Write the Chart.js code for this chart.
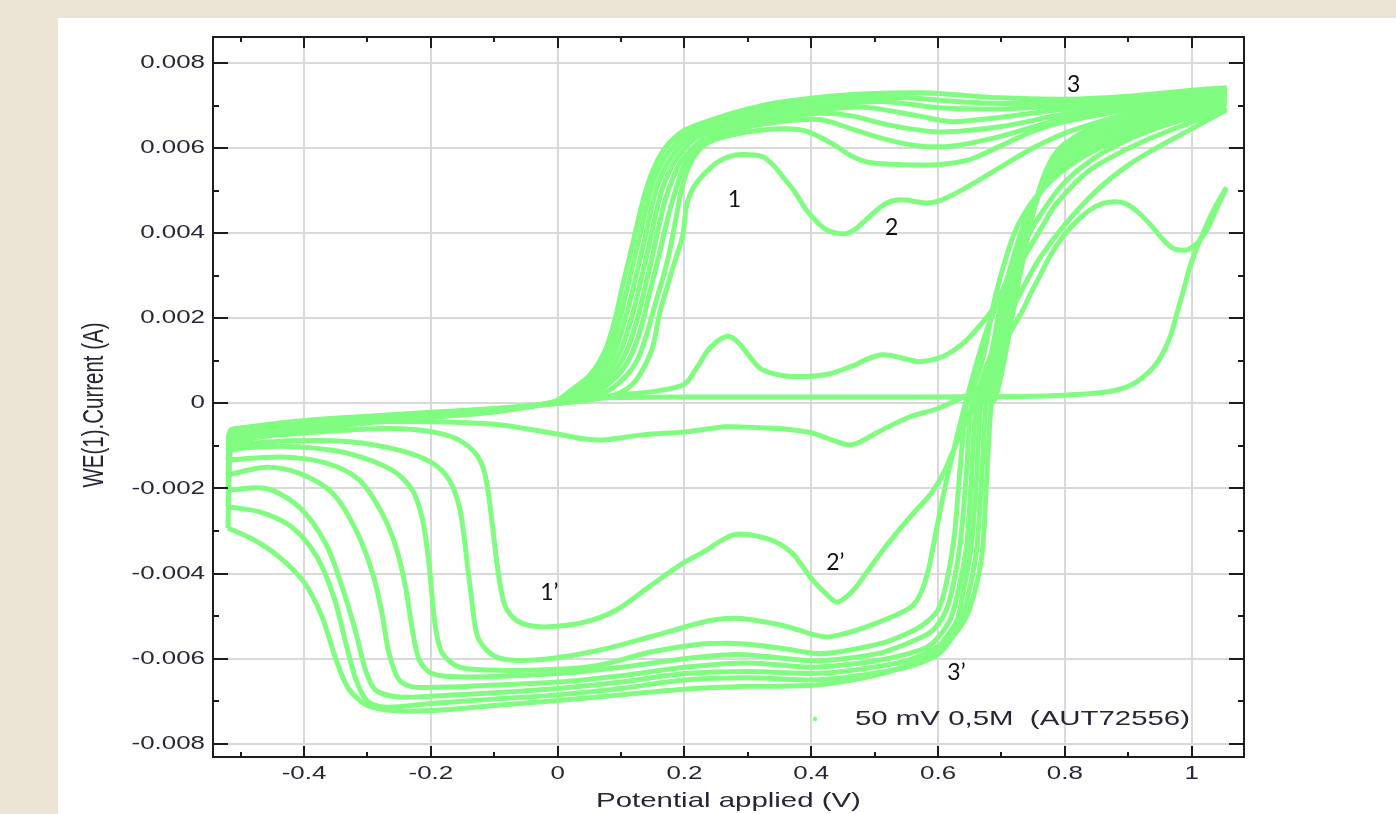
<!DOCTYPE html>
<html>
<head>
<meta charset="utf-8">
<script src="https://cdn.jsdelivr.net/npm/chart.js@4.4.1/dist/chart.umd.min.js"></script>
<style>
  html, body { margin: 0; padding: 0; background: #ece5d5; overflow: hidden; }
  #panel { position: absolute; left: 58px; top: 18px; right: 0; bottom: 0; background: #fff; }
  #wrap { position: absolute; left: 0; top: 0; width: 1396px; height: 814px; }
</style>
</head>
<body>
<div id="panel"></div>
<div id="wrap"><canvas id="cv"></canvas></div>
<script>
// axis ticks (potential in V, current in A)
const xTicks = [-0.4, -0.2, 0, 0.2, 0.4, 0.6, 0.8, 1];
const xTickLabels = ['-0.4', '-0.2', '0', '0.2', '0.4', '0.6', '0.8', '1'];
const xMinor = [-0.5, -0.3, -0.1, 0.1, 0.3, 0.5, 0.7, 0.9];
const yTicks = [0.008, 0.006, 0.004, 0.002, 0, -0.002, -0.004, -0.006, -0.008];
const yTickLabels = ['0.008', '0.006', '0.004', '0.002', '0', '-0.002', '-0.004', '-0.006', '-0.008'];
const yMinor = [0.007, 0.005, 0.003, 0.001, -0.001, -0.003, -0.005, -0.007];
const seriesName = '50 mV 0,5M  (AUT72556)';

// sweeps: [potential V, current mA]
const scan1Anodic = [[0.0,0.05],[0.05,0.12],[0.1,0.14],[0.2,0.15],[0.3,0.15],[0.4,0.15],[0.5,0.15],[0.6,0.15],[0.7,0.16],[0.78,0.18],[0.83,0.22],[0.87,0.28],[0.9,0.4],[0.92,0.58],[0.94,0.85],[0.955,1.19],[0.967,1.6],[0.977,2.13],[0.988,2.7],[0.997,3.2],[1.008,3.65],[1.018,4.0],[1.03,4.4],[1.042,4.75],[1.055,5.07]];
const scan1Cathodic = [[1.055,5.07],[1.04,4.6],[1.025,4.1],[1.01,3.78],[0.995,3.62],[0.985,3.6],[0.97,3.65],[0.955,3.85],[0.935,4.2],[0.915,4.5],[0.895,4.7],[0.879,4.74],[0.86,4.7],[0.84,4.55],[0.82,4.3],[0.797,3.92],[0.778,3.5],[0.76,2.98],[0.745,2.55],[0.734,2.2],[0.715,1.7],[0.7,1.26],[0.68,0.63],[0.66,0.3],[0.64,0.15],[0.6,-0.12],[0.555,-0.32],[0.503,-0.69],[0.475,-0.92],[0.46,-0.98],[0.44,-0.9],[0.4,-0.69],[0.36,-0.6],[0.33,-0.58],[0.266,-0.55],[0.2,-0.67],[0.134,-0.74],[0.07,-0.86],[0.04,-0.83],[0.01,-0.75],[-0.04,-0.62],[-0.092,-0.5],[-0.15,-0.45],[-0.2,-0.43],[-0.3,-0.43],[-0.36,-0.48],[-0.408,-0.55],[-0.45,-0.62],[-0.487,-0.7],[-0.52,-0.8]];

const scan2Anodic = [[-0.52,-0.8],[-0.515,-0.62],[-0.5,-0.58],[-0.47,-0.52],[-0.43,-0.45],[-0.38,-0.38],[-0.3,-0.3],[-0.2,-0.21],[-0.1,-0.12],[-0.03,-0.04],[0.0,0.0],[0.05,0.12],[0.1,0.2],[0.16,0.3],[0.2,0.45],[0.22,0.85],[0.24,1.3],[0.265,1.57],[0.28,1.5],[0.295,1.25],[0.318,0.84],[0.34,0.7],[0.37,0.63],[0.424,0.68],[0.465,0.88],[0.49,1.05],[0.513,1.14],[0.54,1.08],[0.571,0.98],[0.607,1.1],[0.63,1.3],[0.65,1.56],[0.686,2.2],[0.71,2.8],[0.734,3.4],[0.76,4.05],[0.787,4.7],[0.839,5.48],[0.918,6.12],[0.997,6.59],[1.055,6.9]];
const scan2Cathodic = [[1.055,6.9],[1.0,6.45],[0.95,6.05],[0.9,5.6],[0.85,5.0],[0.8,4.2],[0.76,3.4],[0.73,2.6],[0.7,1.7],[0.677,0.9],[0.657,0.0],[0.63,-0.9],[0.61,-1.6],[0.59,-2.1],[0.566,-2.5],[0.54,-2.95],[0.513,-3.45],[0.487,-3.98],[0.471,-4.31],[0.455,-4.55],[0.44,-4.67],[0.425,-4.5],[0.402,-4.15],[0.385,-3.8],[0.37,-3.52],[0.35,-3.3],[0.329,-3.17],[0.3,-3.08],[0.277,-3.09],[0.255,-3.25],[0.235,-3.45],[0.197,-3.76],[0.145,-4.3],[0.092,-4.86],[0.04,-5.15],[-0.013,-5.25],[-0.045,-5.22],[-0.065,-5.1],[-0.08,-4.85],[-0.087,-4.55],[-0.095,-3.85],[-0.102,-2.98],[-0.11,-2.04],[-0.118,-1.49],[-0.134,-1.1],[-0.166,-0.79],[-0.223,-0.62],[-0.3,-0.6],[-0.4,-0.7],[-0.47,-0.78],[-0.52,-0.88]];

const scan3Anodic = [[-0.52,-0.88],[-0.515,-0.65],[-0.5,-0.61],[-0.47,-0.55],[-0.43,-0.48],[-0.38,-0.41],[-0.3,-0.32],[-0.2,-0.23],[-0.1,-0.13],[-0.03,-0.04],[0.0,0.0],[0.05,0.08],[0.09,0.2],[0.11,0.35],[0.124,0.55],[0.138,0.9],[0.15,1.33],[0.161,2.13],[0.172,2.7],[0.184,3.3],[0.197,3.92],[0.203,4.62],[0.21,4.95],[0.219,5.18],[0.235,5.45],[0.25,5.65],[0.27,5.8],[0.292,5.85],[0.323,5.8],[0.34,5.6],[0.355,5.33],[0.375,4.95],[0.392,4.55],[0.41,4.25],[0.424,4.08],[0.44,4.0],[0.455,3.99],[0.468,4.08],[0.481,4.24],[0.5,4.5],[0.519,4.71],[0.535,4.78],[0.55,4.78],[0.565,4.74],[0.582,4.71],[0.6,4.75],[0.623,4.9],[0.645,5.08],[0.666,5.26],[0.697,5.54],[0.75,6.0],[0.8,6.35],[0.85,6.6],[0.9,6.8],[0.95,6.95],[1.0,7.1],[1.055,7.25]];
const scan3Cathodic = [[1.055,7.05],[1.0,6.8],[0.95,6.5],[0.9,6.2],[0.85,5.8],[0.8,5.2],[0.76,4.4],[0.73,3.6],[0.7,2.6],[0.675,1.65],[0.645,0.1],[0.628,-0.9],[0.612,-1.9],[0.597,-3.0],[0.585,-3.9],[0.573,-4.45],[0.56,-4.75],[0.54,-4.93],[0.487,-5.25],[0.45,-5.42],[0.424,-5.49],[0.4,-5.42],[0.381,-5.33],[0.355,-5.22],[0.329,-5.14],[0.282,-5.05],[0.25,-5.08],[0.224,-5.16],[0.145,-5.49],[0.066,-5.8],[-0.013,-6.0],[-0.065,-6.04],[-0.095,-5.97],[-0.115,-5.75],[-0.128,-5.4],[-0.136,-4.55],[-0.142,-3.85],[-0.147,-3.2],[-0.155,-2.43],[-0.171,-1.8],[-0.198,-1.4],[-0.25,-1.1],[-0.329,-0.9],[-0.42,-0.88],[-0.52,-0.98]];

const scan4Anodic = [[-0.52,-0.98],[-0.515,-0.68],[-0.5,-0.64],[-0.47,-0.58],[-0.43,-0.51],[-0.38,-0.44],[-0.3,-0.34],[-0.2,-0.25],[-0.1,-0.14],[-0.03,-0.04],[0.0,0.0],[0.04,0.1],[0.08,0.3],[0.105,0.6],[0.125,1.0],[0.14,1.6],[0.155,2.4],[0.167,3.0],[0.177,3.6],[0.186,4.3],[0.195,5.0],[0.205,5.5],[0.22,5.9],[0.24,6.15],[0.282,6.33],[0.334,6.44],[0.37,6.45],[0.392,6.4],[0.415,6.25],[0.44,6.04],[0.465,5.8],[0.492,5.66],[0.544,5.61],[0.598,5.61],[0.65,5.73],[0.697,6.04],[0.75,6.4],[0.8,6.62],[0.9,6.9],[1.0,7.1],[1.055,7.2]];
const scan4Cathodic = [[1.055,6.95],[0.95,6.5],[0.855,6.0],[0.8,5.5],[0.76,4.95],[0.73,4.3],[0.713,3.7],[0.69,2.5],[0.673,1.2],[0.655,0.3],[0.645,0.0],[0.635,-1.5],[0.625,-3.2],[0.612,-4.3],[0.6,-4.85],[0.585,-5.1],[0.566,-5.3],[0.52,-5.6],[0.487,-5.72],[0.44,-5.85],[0.408,-5.88],[0.355,-5.76],[0.3,-5.66],[0.277,-5.64],[0.224,-5.66],[0.145,-5.85],[0.066,-6.15],[0.0,-6.25],[-0.092,-6.27],[-0.155,-6.2],[-0.182,-5.87],[-0.192,-5.33],[-0.198,-4.55],[-0.203,-3.76],[-0.213,-2.74],[-0.229,-2.04],[-0.261,-1.57],[-0.329,-1.18],[-0.408,-1.02],[-0.47,-1.02],[-0.52,-1.1]];

const scan5Anodic = [[-0.52,-1.1],[-0.515,-0.72],[-0.5,-0.68],[-0.47,-0.61],[-0.43,-0.54],[-0.38,-0.46],[-0.3,-0.36],[-0.2,-0.26],[-0.1,-0.15],[-0.03,-0.04],[0.0,0.02],[0.04,0.15],[0.075,0.4],[0.1,0.75],[0.118,1.2],[0.132,1.8],[0.145,2.6],[0.157,3.3],[0.168,4.0],[0.178,4.6],[0.19,5.2],[0.2,5.6],[0.22,6.0],[0.25,6.3],[0.3,6.5],[0.35,6.62],[0.413,6.67],[0.466,6.44],[0.519,6.2],[0.571,6.05],[0.623,6.05],[0.697,6.27],[0.8,6.7],[0.9,6.95],[1.0,7.15],[1.055,7.25]];
const scan5Cathodic = [[1.055,7.05],[0.95,6.6],[0.855,6.1],[0.8,5.62],[0.765,5.05],[0.738,4.3],[0.722,3.6],[0.7,2.4],[0.683,1.1],[0.668,0.3],[0.653,0.0],[0.645,-1.6],[0.635,-3.3],[0.622,-4.4],[0.61,-4.95],[0.59,-5.35],[0.566,-5.55],[0.513,-5.85],[0.45,-6.0],[0.4,-6.05],[0.33,-5.95],[0.28,-5.9],[0.2,-6.0],[0.1,-6.2],[0.0,-6.35],[-0.144,-6.43],[-0.198,-6.35],[-0.218,-6.04],[-0.229,-5.33],[-0.24,-4.31],[-0.255,-3.38],[-0.277,-2.58],[-0.313,-1.8],[-0.366,-1.4],[-0.434,-1.26],[-0.52,-1.33]];

const scan6Anodic = [[-0.52,-1.33],[-0.515,-0.76],[-0.5,-0.72],[-0.47,-0.64],[-0.43,-0.57],[-0.38,-0.49],[-0.3,-0.38],[-0.2,-0.28],[-0.1,-0.16],[-0.03,-0.04],[0.0,0.03],[0.035,0.17],[0.07,0.45],[0.095,0.85],[0.112,1.35],[0.126,2.0],[0.139,2.8],[0.15,3.5],[0.16,4.2],[0.17,4.8],[0.182,5.3],[0.195,5.7],[0.22,6.1],[0.25,6.38],[0.3,6.58],[0.35,6.72],[0.42,6.82],[0.466,6.75],[0.52,6.55],[0.6,6.38],[0.697,6.5],[0.8,6.8],[0.9,7.0],[1.0,7.2],[1.055,7.3]];
const scan6Cathodic = [[1.055,7.12],[0.95,6.7],[0.855,6.22],[0.8,5.75],[0.768,5.2],[0.744,4.3],[0.726,3.5],[0.705,2.3],[0.688,1.0],[0.674,0.25],[0.661,0.0],[0.653,-1.65],[0.645,-3.35],[0.632,-4.4],[0.62,-5.05],[0.6,-5.5],[0.58,-5.75],[0.52,-6.0],[0.45,-6.15],[0.4,-6.2],[0.3,-6.1],[0.2,-6.2],[0.1,-6.4],[0.0,-6.55],[-0.1,-6.62],[-0.224,-6.67],[-0.25,-6.5],[-0.266,-5.87],[-0.277,-4.93],[-0.292,-3.99],[-0.318,-2.98],[-0.355,-2.11],[-0.408,-1.64],[-0.46,-1.5],[-0.52,-1.68]];

const scan7Anodic = [[-0.52,-1.68],[-0.515,-0.8],[-0.5,-0.76],[-0.47,-0.67],[-0.43,-0.6],[-0.38,-0.52],[-0.3,-0.4],[-0.2,-0.29],[-0.1,-0.17],[-0.03,-0.04],[0.0,0.04],[0.03,0.18],[0.065,0.5],[0.09,0.95],[0.106,1.5],[0.12,2.2],[0.133,3.0],[0.144,3.7],[0.154,4.4],[0.164,5.0],[0.176,5.45],[0.19,5.8],[0.215,6.2],[0.25,6.47],[0.3,6.68],[0.35,6.82],[0.45,6.95],[0.492,6.95],[0.571,6.75],[0.623,6.62],[0.697,6.72],[0.8,6.92],[0.9,7.07],[1.0,7.25],[1.055,7.33]];
const scan7Cathodic = [[1.055,7.2],[0.95,6.8],[0.855,6.32],[0.8,5.88],[0.77,5.35],[0.748,4.4],[0.73,3.45],[0.71,2.2],[0.693,0.95],[0.68,0.2],[0.668,0.0],[0.661,-1.7],[0.652,-3.4],[0.64,-4.4],[0.63,-5.1],[0.61,-5.55],[0.6,-5.72],[0.55,-6.05],[0.45,-6.3],[0.4,-6.35],[0.3,-6.3],[0.2,-6.35],[0.1,-6.55],[0.0,-6.7],[-0.1,-6.8],[-0.2,-6.88],[-0.25,-6.9],[-0.287,-6.74],[-0.303,-6.27],[-0.318,-5.4],[-0.34,-4.31],[-0.366,-3.29],[-0.408,-2.43],[-0.46,-2.0],[-0.52,-2.04]];

const scan8Anodic = [[-0.52,-2.04],[-0.515,-0.84],[-0.5,-0.8],[-0.47,-0.71],[-0.43,-0.63],[-0.38,-0.54],[-0.3,-0.42],[-0.2,-0.3],[-0.1,-0.18],[-0.03,-0.04],[0.0,0.05],[0.025,0.2],[0.06,0.55],[0.085,1.05],[0.1,1.65],[0.114,2.4],[0.127,3.2],[0.138,3.9],[0.148,4.6],[0.158,5.15],[0.17,5.55],[0.185,5.9],[0.21,6.28],[0.25,6.55],[0.3,6.76],[0.35,6.9],[0.45,7.05],[0.519,7.09],[0.6,6.95],[0.697,6.92],[0.8,7.0],[0.9,7.12],[1.0,7.28],[1.055,7.36]];
const scan8Cathodic = [[1.055,7.28],[0.95,6.9],[0.855,6.43],[0.8,6.0],[0.773,5.5],[0.752,4.6],[0.733,3.4],[0.714,2.1],[0.698,0.9],[0.684,0.15],[0.676,0.0],[0.669,-1.7],[0.661,-3.42],[0.65,-4.35],[0.638,-5.05],[0.62,-5.55],[0.6,-5.9],[0.55,-6.2],[0.45,-6.45],[0.4,-6.5],[0.3,-6.45],[0.2,-6.5],[0.1,-6.7],[0.0,-6.85],[-0.1,-6.95],[-0.2,-7.05],[-0.27,-7.14],[-0.3,-7.0],[-0.318,-6.5],[-0.333,-5.7],[-0.352,-4.6],[-0.38,-3.6],[-0.42,-2.9],[-0.47,-2.55],[-0.52,-2.43]];

const scan9Anodic = [[-0.52,-2.43],[-0.515,-0.88],[-0.5,-0.84],[-0.47,-0.75],[-0.43,-0.66],[-0.38,-0.57],[-0.3,-0.44],[-0.2,-0.32],[-0.1,-0.19],[-0.03,-0.04],[0.0,0.06],[0.02,0.22],[0.055,0.6],[0.08,1.15],[0.095,1.8],[0.108,2.6],[0.121,3.4],[0.132,4.1],[0.142,4.75],[0.152,5.25],[0.164,5.65],[0.18,6.0],[0.205,6.35],[0.25,6.62],[0.3,6.84],[0.35,7.0],[0.45,7.15],[0.55,7.18],[0.623,7.1],[0.697,7.05],[0.8,7.08],[0.9,7.18],[1.0,7.32],[1.055,7.4]];
const scan9Cathodic = [[1.055,7.35],[0.95,7.0],[0.855,6.55],[0.8,6.1],[0.776,5.65],[0.755,4.8],[0.737,3.6],[0.72,2.3],[0.703,0.9],[0.69,0.1],[0.684,0.0],[0.677,-1.7],[0.67,-3.45],[0.66,-4.3],[0.645,-5.0],[0.625,-5.45],[0.607,-5.7],[0.566,-6.05],[0.513,-6.35],[0.408,-6.62],[0.3,-6.65],[0.2,-6.72],[0.1,-6.85],[0.0,-6.98],[-0.1,-7.1],[-0.2,-7.22],[-0.26,-7.22],[-0.3,-7.1],[-0.33,-6.7],[-0.35,-6.0],[-0.372,-5.0],[-0.4,-4.2],[-0.44,-3.6],[-0.48,-3.2],[-0.52,-2.93]];

const scan10Anodic = [[-0.52,-2.93],[-0.515,-0.92],[-0.5,-0.88],[-0.47,-0.79],[-0.43,-0.7],[-0.38,-0.6],[-0.3,-0.46],[-0.2,-0.33],[-0.1,-0.2],[-0.03,-0.04],[0.0,0.07],[0.015,0.24],[0.05,0.65],[0.075,1.25],[0.09,1.95],[0.103,2.8],[0.116,3.6],[0.127,4.3],[0.137,4.9],[0.147,5.35],[0.159,5.75],[0.175,6.1],[0.2,6.42],[0.25,6.7],[0.3,6.92],[0.35,7.08],[0.466,7.26],[0.571,7.3],[0.623,7.26],[0.697,7.18],[0.8,7.15],[0.9,7.22],[1.0,7.36],[1.055,7.42]];

const sweeps = [scan1Anodic, scan1Cathodic, scan2Anodic, scan2Cathodic, scan3Anodic, scan3Cathodic,
  scan4Anodic, scan4Cathodic, scan5Anodic, scan5Cathodic, scan6Anodic, scan6Cathodic,
  scan7Anodic, scan7Cathodic, scan8Anodic, scan8Cathodic, scan9Anodic, scan9Cathodic, scan10Anodic];

// peak labels added on the slide, anchored in data units (V, mA)
const peakNotes = [
  { text: '1', v: 0.279, i: 4.79 }, { text: '2', v: 0.527, i: 4.13 }, { text: '3', v: 0.814, i: 7.49 },
  { text: '1\u2019', v: -0.013, i: -4.44 }, { text: '2\u2019', v: 0.438, i: -3.73 }, { text: '3\u2019', v: 0.629, i: -6.32 }
];

const GREEN = 'rgb(128,252,128)';
const INK = '#262636';
const SX = 1.4; // the original screenshot is stretched sideways

function wideText(ctx, txt, x, y, align, font) {
  ctx.save();
  ctx.font = font;
  ctx.fillStyle = INK;
  ctx.textBaseline = 'middle';
  ctx.textAlign = align;
  ctx.translate(x, y);
  ctx.scale(SX, 1);
  ctx.fillText(txt, 0, 0);
  ctx.restore();
}

const framePlugin = {
  id: 'frame',
  afterDraw(chart) {
    const ctx = chart.ctx;
    const { left, right, top, bottom } = chart.chartArea;
    const xs = chart.scales.x, ys = chart.scales.y;
    ctx.save();
    ctx.strokeStyle = '#1c1c1c';
    ctx.lineWidth = 2;
    ctx.strokeRect(left, top, right - left, bottom - top);
    ctx.beginPath();
    xTicks.forEach(v => {
      const p = Math.round(xs.getPixelForValue(v));
      ctx.moveTo(p, bottom); ctx.lineTo(p, bottom - 11);
      ctx.moveTo(p, top); ctx.lineTo(p, top + 11);
    });
    xMinor.forEach(v => {
      const p = Math.round(xs.getPixelForValue(v));
      ctx.moveTo(p, bottom); ctx.lineTo(p, bottom - 5);
      ctx.moveTo(p, top); ctx.lineTo(p, top + 5);
    });
    yTicks.forEach(v => {
      const p = Math.round(ys.getPixelForValue(v));
      ctx.moveTo(left, p); ctx.lineTo(left + 15, p);
      ctx.moveTo(right, p); ctx.lineTo(right - 15, p);
    });
    yMinor.forEach(v => {
      const p = Math.round(ys.getPixelForValue(v));
      ctx.moveTo(left, p); ctx.lineTo(left + 6, p);
      ctx.moveTo(right, p); ctx.lineTo(right - 6, p);
    });
    ctx.stroke();
    ctx.restore();

    // tick labels and titles
    const tickFont = '18.5px "Liberation Sans", Arial, sans-serif';
    yTicks.forEach((v, k) => wideText(ctx, yTickLabels[k], left - 8, ys.getPixelForValue(v), 'right', tickFont));
    xTicks.forEach((v, k) => wideText(ctx, xTickLabels[k], xs.getPixelForValue(v), bottom + 17, 'center', tickFont));
    wideText(ctx, 'Potential applied (V)', (left + right) / 2, bottom + 44, 'center', '21px "Liberation Sans", Arial, sans-serif');

    ctx.save();
    ctx.font = '20.5px "Liberation Sans", Arial, sans-serif';
    ctx.fillStyle = INK;
    ctx.textAlign = 'center';
    ctx.textBaseline = 'middle';
    ctx.translate(95, (top + bottom) / 2 + 8);
    ctx.rotate(-Math.PI / 2);
    ctx.scale(1, SX);
    ctx.fillText('WE(1).Current (A)', 0, 0);
    ctx.restore();

    // legend inside the plot
    ctx.save();
    ctx.fillStyle = GREEN;
    ctx.beginPath();
    ctx.arc(left + 602, bottom - 38, 2.2, 0, Math.PI * 2);
    ctx.fill();
    ctx.restore();
    wideText(ctx, seriesName, left + 642, bottom - 38, 'left', '21px "Liberation Sans", Arial, sans-serif');

    // peak labels
    ctx.save();
    ctx.font = '23px Lato, "Open Sans", sans-serif';
    ctx.fillStyle = '#111';
    ctx.textAlign = 'center';
    ctx.textBaseline = 'middle';
    peakNotes.forEach(n => ctx.fillText(n.text, xs.getPixelForValue(n.v), ys.getPixelForValue(n.i / 1000)));
    ctx.restore();
  }
};

const ctx = document.getElementById('cv').getContext('2d');
new Chart(ctx, {
  type: 'scatter',
  data: {
    datasets: sweeps.map(s => ({
      data: s.map(p => ({ x: p[0], y: p[1] / 1000 })),
      showLine: true,
      borderColor: GREEN,
      backgroundColor: GREEN,
      borderWidth: 5,
      pointRadius: 0,
      tension: 0.3
    }))
  },
  options: {
    responsive: true,
    maintainAspectRatio: false,
    animation: false,
    events: [],
    layout: { padding: { left: 213, right: 152, top: 37, bottom: 57 } },
    plugins: { legend: { display: false }, tooltip: { enabled: false } },
    scales: {
      x: {
        type: 'linear', min: -0.5436, max: 1.0826,
        afterBuildTicks: sc => { sc.ticks = xTicks.map(v => ({ value: v })); },
        ticks: { display: false },
        grid: { color: '#d9d9d9', lineWidth: 2, drawTicks: false },
        border: { display: false }
      },
      y: {
        type: 'linear', min: -0.00831, max: 0.00861,
        afterBuildTicks: sc => { sc.ticks = yTicks.map(v => ({ value: v })); },
        ticks: { display: false },
        grid: { color: '#d9d9d9', lineWidth: 2, drawTicks: false },
        border: { display: false }
      }
    }
  },
  plugins: [framePlugin]
});
</script>
</body>
</html>
